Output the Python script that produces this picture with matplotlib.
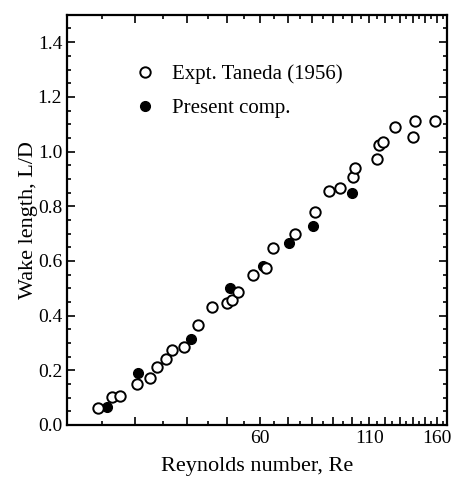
import numpy as np
import matplotlib
matplotlib.use("Agg")
import matplotlib.pyplot as plt
from matplotlib.ticker import FixedLocator, FuncFormatter, NullFormatter, MultipleLocator

# Taneda (1956) experiment: Re, L/D
re_expt = [24.4, 26.5, 27.6, 30.3, 32.6, 33.9, 35.6, 36.8, 39.4, 42.6,
           46.0, 50.0, 51.4, 53.1, 57.7, 62.0, 64.5, 72.9, 81.4, 88.0,
           93.5, 100.5, 101.6, 114.8, 116.1, 118.7, 126.9, 140.3, 141.8, 158.5]
ld_expt = [0.062, 0.102, 0.106, 0.150, 0.172, 0.212, 0.241, 0.274, 0.285, 0.365,
           0.431, 0.446, 0.457, 0.486, 0.548, 0.574, 0.647, 0.698, 0.778, 0.855,
           0.866, 0.906, 0.940, 0.972, 1.023, 1.034, 1.089, 1.053, 1.111, 1.111]

# present computation
re_comp = [25.7, 30.5, 40.9, 50.8, 61.0, 70.5, 80.5, 100.0]
ld_comp = [0.066, 0.190, 0.314, 0.500, 0.580, 0.665, 0.727, 0.848]

xtick_major = list(range(30, 170, 10))
xtick_labelled = [60, 110, 160]

plt.rcParams["font.family"] = ["Liberation Serif", "DejaVu Serif"]

fig = plt.figure(figsize=(4.56, 4.78), dpi=100)
ax = fig.add_axes([0.147, 0.111, 0.833, 0.858])

ax.plot(re_expt, ld_expt, "o", mfc="white", mec="black", mew=1.4, ms=7.5,
        label="Expt. Taneda (1956)", zorder=3)
ax.plot(re_comp, ld_comp, "o", mfc="black", mec="black", ms=7, label="Present comp.",
        zorder=2)

ax.set_xscale("log")
ax.set_xlim(20.6, 169)
ax.set_ylim(0, 1.5)

ax.xaxis.set_major_locator(FixedLocator(xtick_major))
ax.xaxis.set_major_formatter(FuncFormatter(
    lambda v, p: "%d" % round(v) if round(v) in xtick_labelled else ""))
ax.xaxis.set_minor_locator(FixedLocator(list(range(25, 170, 10))))
ax.xaxis.set_minor_formatter(NullFormatter())

ax.set_yticks(np.arange(0, 1.41, 0.2))
ax.set_yticklabels(["0.0", "0.2", "0.4", "0.6", "0.8", "1.0", "1.2", "1.4"])
ax.yaxis.set_minor_locator(MultipleLocator(0.05))

ax.tick_params(which="both", direction="in", top=True, right=True, labelsize=14,
               width=1.2, colors="black")
ax.tick_params(which="major", length=6)
ax.tick_params(which="minor", length=3)
for s in ax.spines.values():
    s.set_linewidth(1.6)

ax.set_xlabel("Reynolds number, Re", fontsize=16, labelpad=7)
ax.set_ylabel("Wake length, L/D", fontsize=16, labelpad=0)

ax.legend(loc="upper left", bbox_to_anchor=(0.10, 0.925), frameon=False, fontsize=15,
          handletextpad=0.3, labelspacing=0.7, numpoints=1)

plt.savefig("out.png", dpi=100)
